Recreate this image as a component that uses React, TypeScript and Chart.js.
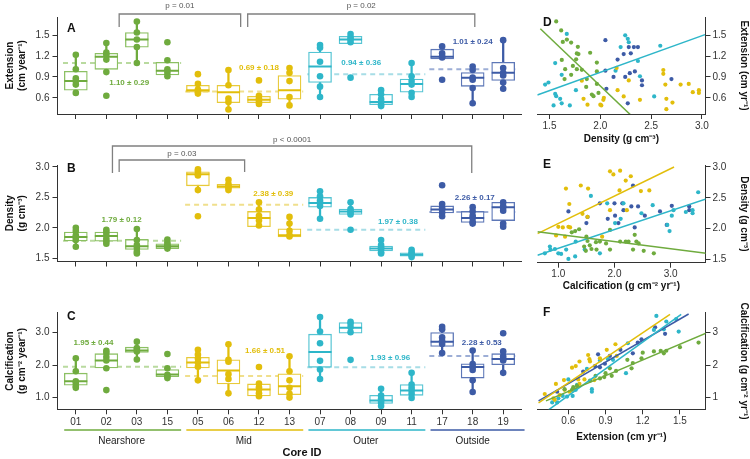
import React, { useEffect, useRef } from 'react';
import { Chart, registerables } from 'chart.js';
Chart.register(...registerables);

const FONT = "'Liberation Sans', Arial, Helvetica, sans-serif";
Chart.defaults.font.family = FONT;
Chart.defaults.color = '#333';

// ---------- categories ----------
const cores = ['01', '02', '03', '15', '05', '06', '12', '13', '07', '08', '09', '11', '17', '18', '19'];
const coreGroup = [0, 0, 0, 0, 1, 1, 1, 1, 2, 2, 2, 2, 3, 3, 3];
const groupNames = ['Nearshore', 'Mid', 'Outer', 'Outside'];
const groupFirst = [0, 4, 8, 12];
const groupLast = [3, 7, 11, 14];
const groupColors = ['#6FAB3E', '#E2BE0B', '#2EB6C9', '#3D5BA6'];
const groupBoxColors = ['#8CC063', '#E8CA3A', '#55C4D3', '#5D77B7'];
const groupDashColors = ['#B9DA9F', '#F0DF8C', '#A7DDE6', '#9DAED6'];

// ---------- Extension (cm / year) ----------
const extPoints = [
  [1.22, 1.01, 0.88, 0.84, 0.79, 0.67],
  [1.39, 1.25, 1.22, 1.15, 0.97, 0.63],
  [1.70, 1.54, 1.44, 1.33, 1.10],
  [1.40, 1.14, 1.01, 0.96, 0.91],
  [0.94, 0.80, 0.72, 0.69, 0.66],
  [1.00, 0.78, 0.59, 0.54, 0.43],
  [0.85, 0.63, 0.59, 0.56, 0.53, 0.51],
  [1.03, 0.96, 0.84, 0.61, 0.49],
  [1.36, 1.32, 1.12, 0.91, 0.76, 0.61],
  [1.52, 1.47, 1.44, 1.40, 0.89],
  [0.71, 0.65, 0.58, 0.54, 0.50, 0.48],
  [1.10, 0.91, 0.84, 0.79, 0.67, 0.61],
  [1.34, 1.24, 1.20, 1.18, 0.86],
  [1.05, 1.00, 0.89, 0.86, 0.74, 0.52],
  [1.43, 1.03, 0.96, 0.92, 0.82, 0.73],
];
const extQ1 = [0.71, 1.01, 1.33, 0.93, 0.68, 0.53, 0.53, 0.58, 0.82, 1.38, 0.50, 0.68, 1.16, 0.765, 0.85];
const extMed = [0.84, 1.19, 1.44, 0.99, 0.71, 0.68, 0.57, 0.71, 1.05, 1.44, 0.54, 0.80, 1.19, 0.89, 0.96];
const extQ3 = [0.98, 1.24, 1.54, 1.11, 0.78, 0.78, 0.62, 0.92, 1.26, 1.485, 0.65, 0.87, 1.30, 0.964, 1.11];
const extLo = [0.67, 0.97, 1.10, 0.91, 0.66, 0.43, 0.51, 0.49, 0.61, 1.38, 0.48, 0.61, 1.16, 0.52, 0.73];
const extHi = [1.22, 1.39, 1.70, 1.14, 0.80, 1.00, 0.63, 1.03, 1.36, 1.52, 0.71, 1.10, 1.34, 1.05, 1.43];
const extMean = [1.10, 0.69, 0.94, 1.01];
const extSd = [0.29, 0.18, 0.36, 0.24];
const extTicks = [0.6, 0.9, 1.2, 1.5];

// ---------- Density (g / cm3) ----------
const denPoints = [
  [2.00, 1.95, 1.88, 1.84, 1.80, 1.69],
  [1.97, 1.93, 1.88, 1.82, 1.78, 1.74],
  [1.98, 1.80, 1.72, 1.67, 1.61, 1.58],
  [1.81, 1.76, 1.72, 1.70, 1.68, 1.66],
  [2.96, 2.93, 2.88, 2.86, 2.62, 2.19],
  [2.79, 2.72, 2.68, 2.66, 2.62],
  [2.42, 2.30, 2.20, 2.12, 2.04],
  [2.18, 2.07, 1.95, 1.88, 1.86],
  [2.60, 2.52, 2.45, 2.41, 2.36, 2.15],
  [2.42, 2.31, 2.28, 2.25, 2.22, 1.97],
  [1.80, 1.72, 1.68, 1.65, 1.60, 1.58],
  [1.64, 1.60, 1.57, 1.55, 1.52],
  [2.70, 2.39, 2.33, 2.30, 2.25, 2.19],
  [2.34, 2.27, 2.20, 2.16, 2.10, 2.07],
  [2.42, 2.36, 2.33, 2.28, 2.07, 2.02],
];
const denQ1 = [1.785, 1.78, 1.645, 1.66, 2.69, 2.65, 2.02, 1.85, 2.34, 2.22, 1.62, 1.535, 2.245, 2.09, 2.12];
const denMed = [1.85, 1.865, 1.70, 1.70, 2.88, 2.68, 2.16, 1.88, 2.41, 2.27, 1.66, 1.56, 2.30, 2.16, 2.34];
const denQ3 = [1.93, 1.93, 1.81, 1.74, 2.92, 2.715, 2.27, 1.985, 2.50, 2.31, 1.70, 1.59, 2.36, 2.27, 2.42];
const denLo = [1.69, 1.74, 1.58, 1.66, 2.62, 2.62, 2.04, 1.86, 2.15, 2.22, 1.58, 1.52, 2.19, 2.07, 2.02];
const denHi = [2.00, 1.97, 1.98, 1.81, 2.96, 2.79, 2.42, 2.18, 2.60, 2.42, 1.80, 1.64, 2.39, 2.34, 2.42];
const denMean = [1.79, 2.38, 1.97, 2.26];
const denSd = [0.12, 0.39, 0.38, 0.17];
const denTicks = [1.5, 2.0, 2.5, 3.0];

// ---------- Calcification (g / cm2 / year) ----------
const calPoints = [
  [2.21, 1.81, 1.50, 1.45, 1.36, 1.30],
  [2.44, 2.37, 2.25, 2.14, 1.90, 1.23],
  [2.72, 2.52, 2.46, 2.42, 2.17],
  [2.34, 1.90, 1.70, 1.65, 1.60],
  [2.47, 2.32, 2.20, 2.08, 1.95, 1.53],
  [2.64, 2.16, 2.10, 1.72, 1.57, 1.13],
  [1.94, 1.43, 1.32, 1.25, 1.13, 1.04],
  [2.27, 1.81, 1.53, 1.30, 1.12, 1.00],
  [3.48, 3.03, 2.67, 2.13, 1.86, 1.57],
  [3.33, 3.27, 3.16, 3.01, 2.16],
  [1.27, 1.06, 0.96, 0.90, 0.84, 0.74],
  [1.76, 1.40, 1.30, 1.22, 1.12, 0.99],
  [3.18, 3.10, 2.85, 2.74, 2.65, 2.37],
  [2.45, 2.03, 1.94, 1.85, 1.53, 1.17],
  [2.98, 2.42, 2.27, 2.19, 2.14, 1.76],
];
const calQ1 = [1.38, 1.91, 2.39, 1.64, 1.91, 1.42, 1.05, 1.09, 1.93, 2.98, 0.82, 1.07, 2.57, 1.60, 2.01];
const calMed = [1.50, 2.14, 2.45, 1.71, 2.08, 1.83, 1.25, 1.35, 2.40, 3.15, 0.91, 1.22, 2.72, 1.94, 2.19];
const calQ3 = [1.75, 2.35, 2.55, 1.86, 2.24, 2.16, 1.42, 1.73, 2.95, 3.31, 1.07, 1.40, 3.00, 2.04, 2.35];
const calLo = [1.30, 1.90, 2.17, 1.60, 1.53, 1.13, 1.04, 1.00, 1.57, 2.98, 0.74, 0.99, 2.37, 1.17, 1.76];
const calHi = [2.21, 2.44, 2.72, 1.90, 2.47, 2.64, 1.43, 2.27, 3.48, 3.33, 1.27, 1.76, 3.18, 2.45, 2.42];
const calMean = [1.95, 1.66, 1.93, 2.28];
const calSd = [0.44, 0.51, 0.96, 0.53];
const calTicks = [1.0, 2.0, 3.0];
const calTicksF = [1, 2, 3];

// ---------- D: density (x) vs extension (y) ----------
const dGreen = [[1.566, 1.70], [1.615, 1.571], [1.631, 1.405], [1.671, 1.438], [1.713, 1.396], [1.779, 1.334], [1.769, 1.239], [1.785, 1.23], [1.90, 1.249], [1.621, 1.145], [1.762, 1.154], [1.966, 1.107], [1.654, 1.012], [1.73, 1.059], [1.769, 1.012], [1.818, 1.002], [1.648, 0.87], [1.713, 0.931], [1.867, 0.87], [1.966, 0.979], [1.861, 0.756], [1.966, 0.80], [1.982, 0.67], [1.917, 0.647], [1.933, 0.623]];
const dYellow = [[1.835, 0.585], [1.874, 0.50], [1.818, 0.846], [2.0, 0.50], [2.01, 0.49], [2.03, 0.57], [2.035, 0.60], [2.16, 1.03], [2.17, 0.71], [2.23, 0.62], [2.28, 0.85], [2.39, 0.57], [2.62, 1.00], [2.62, 0.945], [2.64, 0.79], [2.65, 0.585], [2.65, 0.435], [2.71, 0.53], [2.79, 0.79], [2.87, 0.80], [2.91, 0.68], [2.97, 0.71], [2.97, 0.67]];
const dCyan = [[1.67, 1.52], [2.245, 1.50], [2.27, 1.45], [2.28, 1.40], [2.20, 1.33], [2.37, 1.13], [2.59, 1.35], [2.53, 0.62], [2.15, 0.99], [1.62, 0.93], [1.556, 1.10], [1.457, 0.79], [1.49, 0.82], [1.556, 0.656], [1.566, 0.623], [1.54, 0.49], [1.605, 0.585], [1.62, 0.52], [1.70, 0.49], [1.76, 0.71], [2.39, 0.91]];
const dBlue = [[2.05, 1.43], [2.28, 1.33], [2.33, 1.33], [2.37, 1.33], [2.23, 1.23], [2.30, 1.24], [2.17, 1.15], [2.05, 0.99], [2.13, 0.90], [2.29, 0.955], [2.34, 0.98], [2.245, 0.90], [2.41, 0.85], [2.41, 0.78], [2.06, 0.73], [2.27, 0.52], [2.70, 0.87]];
const dFitGreen = [[1.41, 1.595], [2.30, 0.35]];
const dFitCyan = [[1.38, 0.64], [3.03, 1.51]];
const dTicksX = [1.5, 2.0, 2.5, 3.0];

// ---------- E: calcification (x) vs density (y) ----------
const eYellow = [[1.136, 2.65], [1.40, 2.70], [1.53, 2.65], [1.196, 2.40], [1.43, 2.24], [1.52, 2.19], [1.0, 2.03], [1.08, 2.02], [1.18, 2.03], [1.21, 2.02], [1.12, 1.87], [0.96, 1.89], [1.78, 1.87], [1.92, 2.93], [1.98, 2.88], [2.10, 2.94], [2.29, 2.85], [2.20, 2.78], [2.09, 2.62], [2.47, 2.61], [2.62, 2.62], [1.92, 2.30], [2.22, 2.30]];
const eGreen = [[1.37, 1.99], [1.24, 1.94], [1.30, 1.96], [1.50, 1.87], [1.52, 1.80], [1.56, 1.73], [1.59, 1.67], [1.68, 1.66], [1.67, 1.78], [1.74, 1.79], [1.85, 1.76], [1.92, 1.66], [1.92, 1.98], [2.10, 1.79], [2.20, 1.79], [2.25, 1.79], [2.36, 1.90], [2.39, 1.79], [2.43, 1.76], [2.33, 1.66], [2.52, 1.64], [2.70, 1.60], [1.46, 1.71], [1.49, 1.64]];
const eCyan = [[0.76, 1.60], [0.85, 1.71], [0.86, 1.66], [0.94, 1.67], [1.0, 1.60], [1.05, 1.59], [1.14, 1.66], [1.18, 1.51], [1.30, 1.55], [1.31, 1.79], [1.47, 1.66], [1.58, 2.53], [1.74, 1.60], [1.87, 2.41], [2.01, 2.09], [2.11, 2.16], [2.16, 2.41], [2.48, 2.25], [2.68, 2.38], [2.98, 1.96], [3.02, 2.21], [3.05, 2.30], [3.27, 2.27], [3.39, 2.25], [3.39, 2.30], [3.49, 2.59], [2.94, 2.06]];
const eBlue = [[1.18, 2.28], [1.50, 2.09], [1.52, 2.19], [1.74, 2.41], [1.88, 2.16], [2.0, 2.41], [2.01, 2.21], [2.07, 2.09], [2.14, 2.41], [2.16, 2.30], [2.30, 2.36], [2.33, 2.70], [2.42, 2.36], [2.36, 2.02], [2.54, 2.21], [2.81, 2.28], [3.02, 2.37], [3.33, 2.36], [3.33, 2.30], [2.93, 2.06]];
const eFitYellow = [[0.63, 1.92], [3.06, 3.0]];
const eFitCyan = [[0.63, 1.57], [3.63, 2.48]];
const eFitGreen = [[0.63, 1.95], [3.63, 1.60]];
const eTicksX = [1.0, 2.0, 3.0];

// ---------- F: extension (x) vs calcification (y) ----------
const fYellow = [[0.41, 1.11], [0.48, 0.98], [0.49, 0.93], [0.50, 1.42], [0.53, 1.08], [0.565, 1.54], [0.57, 1.24], [0.61, 1.18], [0.63, 1.92], [0.66, 1.97], [0.69, 2.11], [0.68, 1.56], [0.76, 2.31], [0.77, 2.18], [0.775, 2.11], [0.69, 1.42], [0.73, 1.56], [0.855, 2.21], [0.91, 2.47], [0.98, 2.64], [0.99, 2.28], [0.81, 1.54]];
const fBlue = [[0.51, 1.18], [0.72, 1.80], [0.84, 2.33], [0.815, 1.97], [0.855, 1.93], [0.895, 2.04], [0.935, 2.28], [1.02, 2.47], [1.12, 2.36], [1.16, 2.69], [1.19, 2.79], [1.30, 3.16], [1.38, 2.96]];
const fCyan = [[0.47, 0.85], [0.51, 0.85], [0.52, 0.98], [0.555, 1.05], [0.59, 1.03], [0.635, 1.05], [0.66, 1.24], [0.67, 1.39], [0.60, 1.56], [0.79, 1.26], [0.79, 1.18], [0.75, 1.88], [0.855, 2.14], [0.92, 2.18], [0.96, 2.16], [1.065, 1.75], [1.08, 2.67], [1.29, 3.08], [1.31, 3.51], [1.37, 3.10], [1.39, 3.34], [1.47, 3.41], [1.49, 3.03]];
const fGreen = [[0.57, 1.26], [0.63, 1.24], [0.64, 1.32], [0.67, 1.36], [0.775, 1.52], [0.82, 1.67], [0.855, 1.59], [0.89, 1.63], [0.90, 1.75], [0.95, 1.67], [0.935, 1.90], [0.985, 1.82], [1.076, 2.16], [1.11, 1.90], [1.12, 2.06], [1.19, 2.21], [1.20, 2.38], [1.29, 2.42], [1.345, 2.44], [1.37, 2.36], [1.39, 2.44], [1.50, 2.55], [1.65, 2.69]];
const fFitYellow = [[0.36, 0.84], [1.42, 3.56]];
const fFitBlue = [[0.36, 0.90], [1.57, 3.57]];
const fFitCyan = [[0.44, 0.62], [1.51, 3.56]];
const fFitGreen = [[0.42, 0.90], [1.71, 2.98]];
const fTicksX = [0.6, 0.9, 1.2, 1.5];

// ---------- helpers ----------
const AXIS = '#333';
const fix1 = (v: number) => v.toFixed(1);
const fix0 = (v: number) => v.toFixed(0);

function tickList(list: number[]) {
  return (s: any) => { s.ticks = list.map((v) => ({ value: v })); };
}

function boxDatasets(points: number[][], q1: number[], med: number[], q3: number[], lo: number[], hi: number[], means: number[]) {
  const pts: any[] = [];
  const pcol: string[] = [];
  points.forEach((arr, i) => arr.forEach((v) => { pts.push({ x: i, y: v }); pcol.push(groupColors[coreGroup[i]]); }));
  const colOf = (i: number) => groupColors[coreGroup[i]];
  const ds: any[] = [
    { type: 'scatter', data: pts, pointRadius: 3.3, pointBackgroundColor: pcol, pointBorderWidth: 0, order: 0 },
    { type: 'scatter', data: med.map((v, i) => ({ x: i, y: v })), pointStyle: 'line', pointRadius: 11.5, pointBorderWidth: 2, pointBorderColor: med.map((_, i) => colOf(i)), order: 1 },
    { type: 'bar', data: q1.map((v, i) => ({ x: i, y: [v, q3[i]] })), backgroundColor: '#ffffff', borderColor: q1.map((_, i) => groupBoxColors[coreGroup[i]]), borderWidth: 1.3, borderSkipped: false, barThickness: 23, grouped: false, order: 2 },
    { type: 'bar', data: lo.map((v, i) => ({ x: i, y: [v, hi[i]] })), backgroundColor: lo.map((_, i) => colOf(i)), borderWidth: 0, barThickness: 1.6, grouped: false, order: 3 },
  ];
  means.forEach((m, g) => {
    ds.push({ type: 'line', data: [{ x: groupFirst[g] - 0.42, y: m }, { x: groupLast[g] + 0.45, y: m }], borderColor: groupDashColors[g], borderDash: [5, 4], borderWidth: 2, pointRadius: 0, order: 4 });
  });
  return ds;
}

function catX(height: number, showLabels: boolean) {
  return {
    type: 'linear', position: 'bottom', min: -0.6, max: 14.6, offset: false,
    afterBuildTicks: (s: any) => { s.ticks = cores.map((_, i) => ({ value: i })); },
    afterFit: (s: any) => { s.height = height; },
    ticks: { display: showLabels, autoSkip: false, maxRotation: 0, callback: (_v: any, i: number) => cores[i], font: { size: 10 }, color: AXIS, padding: 2 },
    grid: { display: true, drawOnChartArea: false, drawTicks: true, tickLength: 5, color: AXIS, offset: false },
    border: { display: true, color: AXIS, width: 1 },
  };
}

function leftY(min: number, max: number, ticks: number[], title: string[], fmt: (v: number) => string) {
  return {
    type: 'linear', position: 'left', min, max,
    afterBuildTicks: tickList(ticks),
    afterFit: (s: any) => { s.width = 57.5; },
    ticks: { callback: (v: number) => fmt(v), font: { size: 10 }, color: AXIS, padding: 3 },
    grid: { display: true, drawOnChartArea: false, drawTicks: true, tickLength: 5, color: AXIS },
    border: { display: true, color: AXIS, width: 1 },
    title: { display: true, text: title, font: { size: 10, weight: 'bold' }, color: '#111', padding: { top: 4, bottom: 0 } },
  };
}

function sideX(min: number, max: number, ticks: number[], title: string, height: number, padBottom: number, fmt: (v: number) => string) {
  return {
    type: 'linear', position: 'bottom', min, max,
    afterBuildTicks: tickList(ticks),
    afterFit: (s: any) => { s.height = height; },
    ticks: { callback: (v: number) => fmt(v), font: { size: 10 }, color: AXIS, padding: 1, maxRotation: 0 },
    grid: { display: true, drawOnChartArea: false, drawTicks: true, tickLength: 5, color: AXIS },
    border: { display: true, color: AXIS, width: 1 },
    title: { display: true, text: title, font: { size: 10, weight: 'bold' }, color: '#111', padding: { top: 0, bottom: padBottom } },
  };
}

function rightY(min: number, max: number, ticks: number[], title: string, fmt: (v: number) => string) {
  return {
    type: 'linear', position: 'right', min, max,
    afterBuildTicks: tickList(ticks),
    afterFit: (s: any) => { s.width = 44.5; },
    ticks: { callback: (v: number) => fmt(v), font: { size: 10 }, color: AXIS, padding: 2 },
    grid: { display: true, drawOnChartArea: false, drawTicks: true, tickLength: 5, color: AXIS },
    border: { display: true, color: AXIS, width: 1 },
    title: { display: true, text: title, font: { size: 10, weight: 'bold' }, color: '#111', padding: { top: 0, bottom: 0 } },
  };
}

function overlay(cfg: any) {
  return {
    id: 'overlay',
    afterDraw(chart: any) {
      const ctx = chart.ctx;
      const xs = chart.scales.x;
      const ys = chart.scales.y;
      const oy = cfg.top;
      const ox = cfg.left;
      ctx.save();
      if (cfg.letter) {
        ctx.font = `bold 12px ${FONT}`;
        ctx.fillStyle = '#111';
        ctx.textAlign = 'left';
        ctx.textBaseline = 'middle';
        ctx.fillText(cfg.letter.text, cfg.letter.x - ox, cfg.letter.y - oy);
      }
      (cfg.labels || []).forEach((l: any) => {
        ctx.font = `bold 8px ${FONT}`;
        ctx.fillStyle = l.color;
        ctx.textAlign = 'center';
        ctx.textBaseline = 'middle';
        ctx.fillText(l.text, xs.getPixelForValue(l.x), ys.getPixelForValue(l.y));
      });
      (cfg.brackets || []).forEach((b: any) => {
        const x1 = xs.getPixelForValue(b.from);
        const x2 = xs.getPixelForValue(b.to);
        ctx.strokeStyle = '#808080';
        ctx.lineWidth = 1.3;
        ctx.beginPath();
        ctx.moveTo(x1, b.end - oy);
        ctx.lineTo(x1, b.line - oy);
        ctx.lineTo(x2, b.line - oy);
        ctx.lineTo(x2, b.end - oy);
        ctx.stroke();
        ctx.font = `8px ${FONT}`;
        ctx.fillStyle = '#555';
        ctx.textAlign = 'center';
        ctx.textBaseline = 'middle';
        ctx.fillText(b.text, (x1 + x2) / 2, b.textY - oy);
      });
      if (cfg.groups) {
        groupNames.forEach((name, g) => {
          const x1 = xs.getPixelForValue(groupFirst[g] - 0.38);
          const x2 = xs.getPixelForValue(groupLast[g] + (g === 3 ? 0.7 : 0.45));
          ctx.strokeStyle = groupColors[g];
          ctx.lineWidth = 1.4;
          ctx.beginPath();
          ctx.moveTo(x1, cfg.groups.lineY - oy);
          ctx.lineTo(x2, cfg.groups.lineY - oy);
          ctx.stroke();
          ctx.font = `10px ${FONT}`;
          ctx.fillStyle = '#222';
          ctx.textAlign = 'center';
          ctx.textBaseline = 'middle';
          ctx.fillText(name, xs.getPixelForValue((groupFirst[g] + groupLast[g]) / 2), cfg.groups.labelY - oy);
        });
        ctx.font = `bold 11px ${FONT}`;
        ctx.fillStyle = '#111';
        ctx.textAlign = 'center';
        ctx.fillText('Core ID', cfg.groups.titleX - ox, cfg.groups.titleY - oy);
      }
      ctx.restore();
    },
  };
}

function meanLabels(means: number[], sds: number[], pos: number[][]) {
  return means.map((m, g) => ({ text: `${m.toFixed(2)} ± ${sds[g].toFixed(2)}`, x: pos[g][0], y: pos[g][1], color: groupColors[g] }));
}

function scatterSets(groups: { pts: number[][]; color: string }[], fits: { pts: number[][]; color: string }[]) {
  const ds: any[] = [];
  fits.forEach((f) => ds.push({ type: 'line', data: f.pts.map(([x, y]) => ({ x, y })), borderColor: f.color, borderWidth: 1.5, pointRadius: 0, order: 0 }));
  groups.forEach((g) => ds.push({ type: 'scatter', data: g.pts.map(([x, y]) => ({ x, y })), pointRadius: 2.1, pointBackgroundColor: g.color, pointBorderWidth: 0, order: 1 }));
  return ds;
}

const baseOptions = (padding: any, scales: any) => ({
  responsive: false,
  maintainAspectRatio: false,
  animation: false,
  devicePixelRatio: 1,
  events: [],
  layout: { padding },
  plugins: { legend: { display: false }, tooltip: { enabled: false } },
  scales,
});

// ---------- panel definitions (canvas placement) ----------
const panels: any[] = [
  {
    key: 'A', left: 0, top: 0, width: 535, height: 130,
    make: () => ({
      type: 'bar',
      data: { datasets: boxDatasets(extPoints, extQ1, extMed, extQ3, extLo, extHi, extMean) },
      options: baseOptions({ top: 17, right: 7.5, left: 0, bottom: 0 }, {
        x: catX(16, false),
        y: leftY(0.366, 1.764, extTicks, ['Extension', '(cm year⁻¹)'], (v) => v.toFixed(1)),
      }),
      plugins: [overlay({
        top: 0, left: 0,
        letter: { text: 'A', x: 67, y: 29 },
        labels: meanLabels(extMean, extSd, [[1.75, 0.817], [6.0, 1.03], [9.35, 1.10], [13.0, 1.40]]),
        brackets: [
          { from: 1.42, to: 5.40, line: 14, end: 27, textY: 6, text: 'p = 0.01' },
          { from: 5.63, to: 13.07, line: 14, end: 27, textY: 6, text: 'p = 0.02' },
        ],
      })],
    }),
  },
  {
    key: 'B', left: 0, top: 130, width: 535, height: 145,
    make: () => ({
      type: 'bar',
      data: { datasets: boxDatasets(denPoints, denQ1, denMed, denQ3, denLo, denHi, denMean) },
      options: baseOptions({ top: 35, right: 7.5, left: 0, bottom: 0 }, {
        x: catX(12.3, false),
        y: leftY(1.448, 3.032, denTicks, ['Density', '(g cm⁻³)'], fix1),
      }),
      plugins: [overlay({
        top: 130, left: 0,
        letter: { text: 'B', x: 67, y: 169 },
        labels: meanLabels(denMean, denSd, [[1.5, 2.14], [6.47, 2.56], [10.55, 2.10], [13.07, 2.49]]),
        brackets: [
          { from: 1.2, to: 12.97, line: 146, end: 173, textY: 140, text: 'p < 0.0001' },
          { from: 1.42, to: 5.53, line: 160, end: 172, textY: 153.5, text: 'p = 0.03' },
        ],
      })],
    }),
  },
  {
    key: 'C', left: 0, top: 285, width: 535, height: 174,
    make: () => ({
      type: 'bar',
      data: { datasets: boxDatasets(calPoints, calQ1, calMed, calQ3, calLo, calHi, calMean) },
      options: baseOptions({ top: 27.7, right: 7.5, left: 0, bottom: 0 }, {
        x: catX(49.7, true),
        y: leftY(0.64, 3.61, calTicks, ['Calcification', '(g cm⁻² year⁻¹)'], fix1),
      }),
      plugins: [overlay({
        top: 285, left: 0,
        letter: { text: 'C', x: 67, y: 317 },
        labels: meanLabels(calMean, calSd, [[0.58, 2.70], [6.2, 2.44], [10.3, 2.23], [13.3, 2.69]]),
        groups: { lineY: 430, labelY: 441, titleX: 302, titleY: 453 },
      })],
    }),
  },
  {
    key: 'D', left: 530, top: 0, width: 220, height: 150,
    make: () => ({
      type: 'scatter',
      data: {
        datasets: scatterSets(
          [{ pts: dGreen, color: groupColors[0] }, { pts: dYellow, color: groupColors[1] }, { pts: dCyan, color: groupColors[2] }, { pts: dBlue, color: groupColors[3] }],
          [{ pts: dFitGreen, color: groupColors[0] }, { pts: dFitCyan, color: groupColors[2] }],
        ),
      },
      options: baseOptions({ top: 17, left: 7.3, right: 0, bottom: 0 }, {
        x: sideX(1.38, 3.035, dTicksX, 'Density (g cm⁻³)', 36, 5, fix1),
        y: rightY(0.366, 1.764, extTicks, 'Extension (cm yr⁻¹)', fix1),
      }),
      plugins: [overlay({ top: 0, left: 530, letter: { text: 'D', x: 543, y: 23 } })],
    }),
  },
  {
    key: 'E', left: 530, top: 150, width: 220, height: 150,
    make: () => ({
      type: 'scatter',
      data: {
        datasets: scatterSets(
          [{ pts: eGreen, color: groupColors[0] }, { pts: eYellow, color: groupColors[1] }, { pts: eCyan, color: groupColors[2] }, { pts: eBlue, color: groupColors[3] }],
          [{ pts: eFitGreen, color: groupColors[0] }, { pts: eFitYellow, color: groupColors[1] }, { pts: eFitCyan, color: groupColors[2] }],
        ),
      },
      options: baseOptions({ top: 15, left: 7.3, right: 0, bottom: 0 }, {
        x: sideX(0.626, 3.62, eTicksX, 'Calcification (g cm⁻² yr⁻¹)', 37.3, 7.3, fix1),
        y: rightY(1.448, 3.032, denTicks, 'Density (g cm⁻³)', fix1),
      }),
      plugins: [overlay({ top: 150, left: 530, letter: { text: 'E', x: 543, y: 165 } })],
    }),
  },
  {
    key: 'F', left: 530, top: 300, width: 220, height: 159,
    make: () => ({
      type: 'scatter',
      data: {
        datasets: scatterSets(
          [{ pts: fGreen, color: groupColors[0] }, { pts: fYellow, color: groupColors[1] }, { pts: fCyan, color: groupColors[2] }, { pts: fBlue, color: groupColors[3] }],
          [{ pts: fFitGreen, color: groupColors[0] }, { pts: fFitYellow, color: groupColors[1] }, { pts: fFitCyan, color: groupColors[2] }, { pts: fFitBlue, color: groupColors[3] }],
        ),
      },
      options: baseOptions({ top: 12.7, left: 7.3, right: 0, bottom: 0 }, {
        x: sideX(0.35, 1.706, fTicksX, 'Extension (cm yr⁻¹)', 49.7, 15.3, fix1),
        y: rightY(0.64, 3.61, calTicksF, 'Calcification (g cm⁻² yr⁻¹)', fix0),
      }),
      plugins: [overlay({ top: 300, left: 530, letter: { text: 'F', x: 543, y: 313 } })],
    }),
  },
];

function Panel({ p }: { p: any }) {
  const ref = useRef<HTMLCanvasElement>(null);
  useEffect(() => {
    const chart = new Chart(ref.current as HTMLCanvasElement, p.make());
    return () => chart.destroy();
  }, [p]);
  return (
    <canvas
      ref={ref}
      width={p.width}
      height={p.height}
      style={{ position: 'absolute', left: p.left, top: p.top, width: p.width, height: p.height }}
    />
  );
}

export default function App() {
  useEffect(() => {
    document.body.style.margin = '0';
  }, []);
  return (
    <div style={{ position: 'fixed', left: 0, top: 0, width: 750, height: 459, background: '#ffffff', overflow: 'hidden' }}>
      {panels.map((p) => (
        <Panel key={p.key} p={p} />
      ))}
    </div>
  );
}
